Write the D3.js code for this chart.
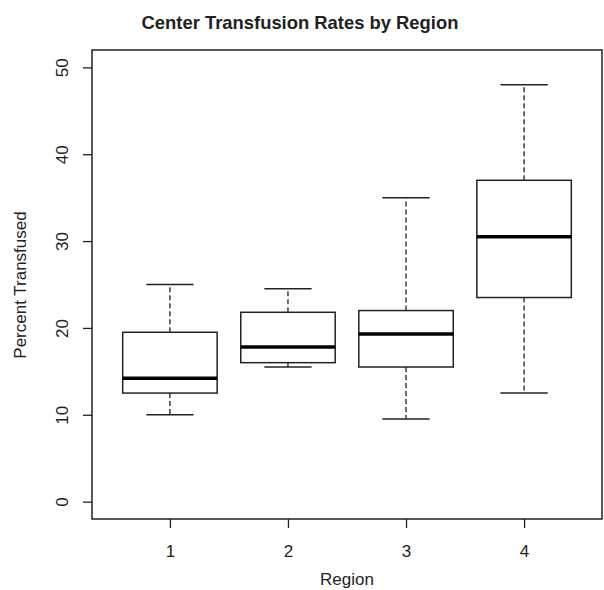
<!DOCTYPE html>
<html>
<head>
<meta charset="utf-8">
<script src="https://cdn.jsdelivr.net/npm/d3@7"></script>
<style>
  body { margin: 0; background: #fff; }
  text { font-family: "Liberation Sans", Arial, sans-serif; fill: #222; }
</style>
</head>
<body>
<svg width="604" height="590"></svg>
<script>
// box stats per region
var regions = [1, 2, 3, 4];
var whiskerLow  = [10, 15.5, 9.5, 12.5];
var q1          = [12.5, 16, 15.5, 23.5];
var median      = [14.2, 17.8, 19.3, 30.5];
var q3          = [19.5, 21.8, 22, 37];
var whiskerHigh = [25, 24.5, 35, 48];
var yTicks = [0, 10, 20, 30, 40, 50];

var svg = d3.select('svg');

var ScaleX = d3.scaleLinear().domain([0.34, 4.66]).range([92, 602]);
var ScaleY = d3.scaleLinear().domain([-2, 52]).range([519, 50]);

var boxes = regions.map(function(r, i){
    return {r: r, lo: whiskerLow[i], q1: q1[i], med: median[i], q3: q3[i], hi: whiskerHigh[i]};
});

var halfBox = ScaleX(1.4) - ScaleX(1);
var halfCap = ScaleX(1.2) - ScaleX(1);

var g = svg.selectAll('g.box')
    .data(boxes)
    .enter()
    .append('g')
    .attr('class', 'box');

// dashed whiskers
g.append('line')
    .attr('x1', function(d){ return ScaleX(d.r); })
    .attr('x2', function(d){ return ScaleX(d.r); })
    .attr('y1', function(d){ return ScaleY(d.q3); })
    .attr('y2', function(d){ return ScaleY(d.hi); })
    .attr('stroke', '#222').attr('stroke-width', 1.3)
    .attr('stroke-dasharray', '5,3');
g.append('line')
    .attr('x1', function(d){ return ScaleX(d.r); })
    .attr('x2', function(d){ return ScaleX(d.r); })
    .attr('y1', function(d){ return ScaleY(d.q1); })
    .attr('y2', function(d){ return ScaleY(d.lo); })
    .attr('stroke', '#222').attr('stroke-width', 1.3)
    .attr('stroke-dasharray', '5,3');

// caps
['hi', 'lo'].forEach(function(k){
    g.append('line')
        .attr('x1', function(d){ return ScaleX(d.r) - halfCap; })
        .attr('x2', function(d){ return ScaleX(d.r) + halfCap; })
        .attr('y1', function(d){ return ScaleY(d[k]); })
        .attr('y2', function(d){ return ScaleY(d[k]); })
        .attr('stroke', '#222').attr('stroke-width', 1.5);
});

// boxes
g.append('rect')
    .attr('x', function(d){ return ScaleX(d.r) - halfBox; })
    .attr('width', halfBox * 2)
    .attr('y', function(d){ return ScaleY(d.q3); })
    .attr('height', function(d){ return ScaleY(d.q1) - ScaleY(d.q3); })
    .attr('fill', '#fff')
    .attr('stroke', '#222').attr('stroke-width', 1.5);

// medians
g.append('line')
    .attr('x1', function(d){ return ScaleX(d.r) - halfBox; })
    .attr('x2', function(d){ return ScaleX(d.r) + halfBox; })
    .attr('y1', function(d){ return ScaleY(d.med); })
    .attr('y2', function(d){ return ScaleY(d.med); })
    .attr('stroke', '#000').attr('stroke-width', 3.5);

// frame
svg.append('rect')
    .attr('x', 92).attr('y', 50)
    .attr('width', 510).attr('height', 469)
    .attr('fill', 'none')
    .attr('stroke', '#222').attr('stroke-width', 1.5);

// axes
var xAxis = svg.append('g')
    .attr('transform', 'translate(0,519)')
    .call(d3.axisBottom(ScaleX).tickValues(regions).tickSize(9).tickPadding(17).tickFormat(d3.format('d')));
xAxis.select('.domain').remove();
xAxis.selectAll('line').attr('stroke', '#222').attr('stroke-width', 1.3);
xAxis.selectAll('text').attr('font-size', 17).attr('fill', '#222')
    .style('font-family', '"Liberation Sans", Arial, sans-serif');

var yAxis = svg.append('g')
    .attr('transform', 'translate(92,0)')
    .call(d3.axisLeft(ScaleY).tickValues(yTicks).tickSize(9).tickFormat(d3.format('d')));
yAxis.select('.domain').remove();
yAxis.selectAll('line').attr('stroke', '#222').attr('stroke-width', 1.3);
yAxis.selectAll('text')
    .attr('font-size', 17).attr('fill', '#222')
    .style('font-family', '"Liberation Sans", Arial, sans-serif')
    .attr('x', null)
    .attr('text-anchor', 'middle')
    .attr('transform', 'translate(-30,0) rotate(-90)')
    .attr('dy', '0.35em');

// titles
svg.append('text')
    .attr('x', 300)
    .attr('y', 29)
    .attr('text-anchor', 'middle')
    .attr('font-size', 18.4)
    .attr('font-weight', 'bold')
    .text('Center Transfusion Rates by Region');

svg.append('text')
    .attr('x', 347)
    .attr('y', 585)
    .attr('text-anchor', 'middle')
    .attr('font-size', 17)
    .text('Region');

svg.append('text')
    .attr('transform', 'rotate(270)')
    .attr('x', -285)
    .attr('y', 26)
    .attr('text-anchor', 'middle')
    .attr('font-size', 17)
    .text('Percent Transfused');
</script>
</body>
</html>
